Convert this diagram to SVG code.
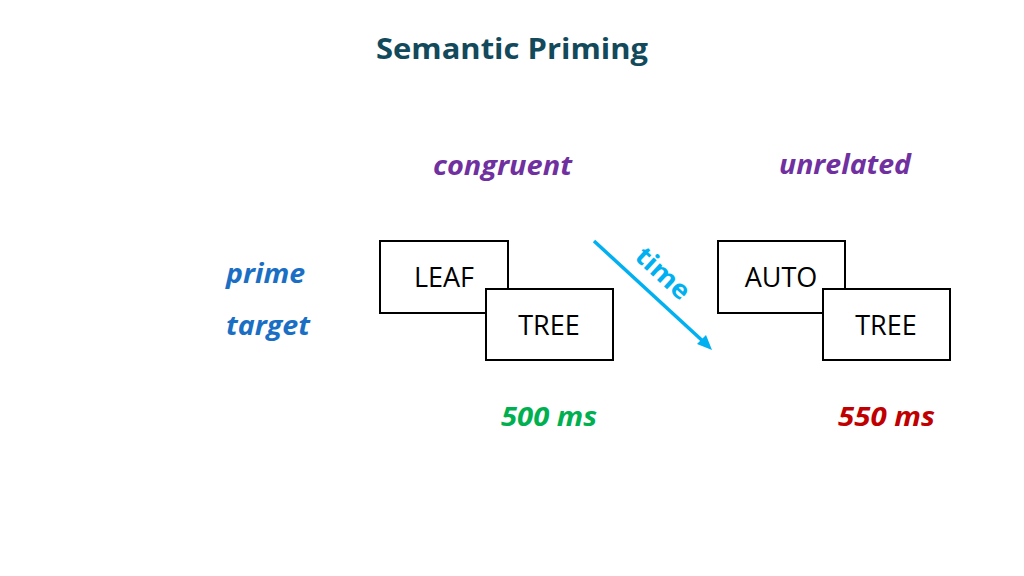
<svg xmlns="http://www.w3.org/2000/svg" width="1024" height="576" viewBox="0 0 1024 576">
<style>
text{font-family:"Open Sans","Noto Sans","Liberation Sans",sans-serif}
.t{font-size:29px;font-weight:bold;fill:#124a5c}
.lab{font-size:26px;font-weight:bold;font-style:italic}
.box{fill:#fff;stroke:#000;stroke-width:2}
.w{font-size:27px;fill:#000;text-anchor:middle}
</style>
<rect width="1024" height="576" fill="#fff"/>
<text class="t" x="376" y="59" textLength="272" lengthAdjust="spacingAndGlyphs">Semantic Priming</text>
<text class="lab" x="433" y="175" fill="#7030a0" textLength="139" lengthAdjust="spacingAndGlyphs">congruent</text>
<text class="lab" x="779" y="174" fill="#7030a0" textLength="132" lengthAdjust="spacingAndGlyphs">unrelated</text>
<text class="lab" x="226" y="283" fill="#1a6fc4" textLength="79" lengthAdjust="spacingAndGlyphs">prime</text>
<text class="lab" x="226" y="335" fill="#1a6fc4" textLength="84" lengthAdjust="spacingAndGlyphs">target</text>
<g id="connectors">
<line x1="594" y1="241" x2="706" y2="344" stroke="#00b0f0" stroke-width="3.5"/>
<path d="M712,350 L697,344 L706,335 Z" fill="#00b0f0"/>
<text x="0" y="0" transform="translate(657,280) rotate(42.7)" font-size="26" font-weight="bold" fill="#00b0f0" text-anchor="middle" textLength="64" lengthAdjust="spacingAndGlyphs">time</text>
</g>
<g id="leaf"><rect class="box" x="380" y="241" width="128" height="72"/><text class="w" x="444" y="287">LEAF</text></g>
<g id="tree1"><rect class="box" x="486" y="289" width="127" height="71"/><text class="w" x="549" y="335">TREE</text></g>
<g id="auto"><rect class="box" x="718" y="241" width="127" height="72"/><text class="w" x="781" y="287">AUTO</text></g>
<g id="tree2"><rect class="box" x="823" y="289" width="127" height="71"/><text class="w" x="886" y="335">TREE</text></g>
<text class="lab" x="501" y="426" fill="#00b050" textLength="96" lengthAdjust="spacingAndGlyphs">500 ms</text>
<text class="lab" x="838" y="426" fill="#c00000" textLength="97" lengthAdjust="spacingAndGlyphs">550 ms</text>
</svg>
